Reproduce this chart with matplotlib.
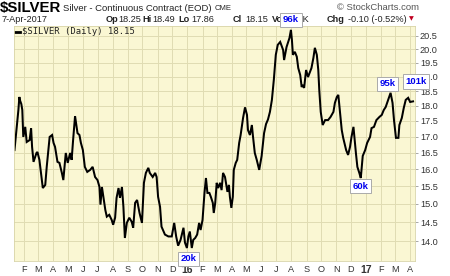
import matplotlib
matplotlib.use("Agg")
import matplotlib.pyplot as plt
import pandas as pd
from matplotlib.lines import Line2D

# ---------------- data ----------------
dates = [
    "2015-01-12", "2015-01-15", "2015-01-20", "2015-01-22", "2015-01-23", "2015-01-26", "2015-01-28", "2015-01-30",
    "2015-02-03", "2015-02-06", "2015-02-12", "2015-02-15", "2015-02-17", "2015-02-20", "2015-02-26", "2015-02-28",
    "2015-03-04", "2015-03-09", "2015-03-11", "2015-03-16", "2015-03-19", "2015-03-25", "2015-03-30", "2015-04-02",
    "2015-04-05", "2015-04-10", "2015-04-14", "2015-04-19", "2015-04-22", "2015-04-27", "2015-05-01", "2015-05-06",
    "2015-05-09", "2015-05-12", "2015-05-16", "2015-05-21", "2015-05-25", "2015-05-28", "2015-06-01", "2015-06-05",
    "2015-06-10", "2015-06-16", "2015-06-21", "2015-06-26", "2015-07-01", "2015-07-05", "2015-07-07", "2015-07-10",
    "2015-07-13", "2015-07-17", "2015-07-20", "2015-07-25", "2015-07-30", "2015-08-02", "2015-08-06", "2015-08-09",
    "2015-08-13", "2015-08-16", "2015-08-20", "2015-08-23", "2015-08-26", "2015-08-30", "2015-09-04", "2015-09-09",
    "2015-09-12", "2015-09-16", "2015-09-20", "2015-09-25", "2015-09-30", "2015-10-04", "2015-10-08", "2015-10-13",
    "2015-10-16", "2015-10-22", "2015-10-27", "2015-10-30", "2015-11-02", "2015-11-06", "2015-11-09", "2015-11-16",
    "2015-11-23", "2015-11-30", "2015-12-05", "2015-12-09", "2015-12-13", "2015-12-18", "2015-12-24", "2015-12-27",
    "2015-12-31", "2016-01-03", "2016-01-06", "2016-01-10", "2016-01-13", "2016-01-17", "2016-01-21", "2016-01-25",
    "2016-01-28", "2016-02-01", "2016-02-05", "2016-02-08", "2016-02-11", "2016-02-15", "2016-02-18", "2016-02-22",
    "2016-02-24", "2016-02-27", "2016-03-01", "2016-03-04", "2016-03-08", "2016-03-11", "2016-03-14", "2016-03-18",
    "2016-03-23", "2016-03-26", "2016-03-28", "2016-03-31", "2016-04-03", "2016-04-05", "2016-04-09", "2016-04-12",
    "2016-04-16", "2016-04-19", "2016-04-24", "2016-04-28", "2016-05-02", "2016-05-04", "2016-05-08", "2016-05-12",
    "2016-05-14", "2016-05-18", "2016-05-22", "2016-05-27", "2016-06-01", "2016-06-06", "2016-06-10", "2016-06-14",
    "2016-06-18", "2016-06-22", "2016-06-26", "2016-06-30", "2016-07-04", "2016-07-09", "2016-07-15", "2016-07-17",
    "2016-07-22", "2016-07-28", "2016-07-31", "2016-08-02", "2016-08-04", "2016-08-08", "2016-08-12", "2016-08-15",
    "2016-08-19", "2016-08-22", "2016-08-24", "2016-08-27", "2016-08-31", "2016-09-04", "2016-09-11", "2016-09-15",
    "2016-09-18", "2016-09-22", "2016-09-25", "2016-09-27", "2016-09-30", "2016-10-04", "2016-10-09", "2016-10-15",
    "2016-10-20", "2016-10-26", "2016-10-29", "2016-11-02", "2016-11-05", "2016-11-08", "2016-11-12", "2016-11-15",
    "2016-11-21", "2016-11-25", "2016-11-29", "2016-12-02", "2016-12-06", "2016-12-11", "2016-12-14", "2016-12-18",
    "2016-12-21", "2016-12-25", "2016-12-30", "2017-01-03", "2017-01-09", "2017-01-12", "2017-01-17", "2017-01-22",
    "2017-01-28", "2017-02-02", "2017-02-06", "2017-02-10", "2017-02-15", "2017-02-20", "2017-02-24", "2017-02-27",
    "2017-03-03", "2017-03-08", "2017-03-10", "2017-03-15", "2017-03-19", "2017-03-23", "2017-03-28", "2017-04-01",
    "2017-04-07",
]
closes = [
    16.58, 17.05, 17.86, 18.30, 18.20, 18.06, 17.86, 16.99,
    17.31, 16.83, 16.89, 17.27, 16.68, 16.22, 16.49, 16.52,
    16.28, 15.68, 15.45, 15.54, 16.07, 16.99, 17.05, 16.80,
    16.68, 16.22, 16.19, 15.89, 15.68, 16.49, 16.19, 16.49,
    16.28, 16.89, 17.66, 17.11, 17.05, 16.80, 16.58, 16.07,
    15.92, 15.98, 16.07, 15.77, 15.68, 15.48, 14.98, 15.48,
    15.20, 14.83, 14.65, 14.70, 14.56, 14.43, 14.62, 15.17,
    15.45, 15.17, 15.48, 14.92, 14.08, 14.48, 14.62, 14.51,
    14.35, 15.03, 15.11, 14.75, 14.48, 15.60, 15.89, 16.04,
    15.89, 15.77, 15.89, 15.77, 15.20, 14.92, 14.38, 14.17,
    14.12, 14.12, 14.48, 14.12, 13.88, 14.03, 14.35, 13.96,
    13.82, 14.12, 14.25, 13.82, 14.03, 14.08, 14.17, 14.48,
    14.29, 14.56, 15.31, 15.74, 15.31, 15.31, 15.20, 15.03,
    14.75, 15.03, 15.60, 15.45, 15.60, 15.39, 15.89, 15.77,
    15.34, 15.54, 15.20, 14.89, 15.20, 15.98, 16.19, 16.28,
    16.80, 17.05, 17.60, 17.95, 17.70, 17.21, 17.05, 17.37,
    17.05, 16.49, 16.28, 15.98, 16.40, 17.11, 17.40, 17.55,
    17.80, 18.20, 18.90, 19.79, 20.16, 20.27, 19.97, 19.60,
    20.08, 20.42, 20.73, 20.35, 19.79, 19.90, 19.72, 19.31,
    19.06, 18.64, 18.71, 18.61, 19.24, 18.99, 19.31, 19.68,
    20.05, 19.79, 19.24, 18.54, 17.80, 17.37, 17.53, 17.53,
    17.63, 17.80, 18.10, 18.30, 18.37, 17.86, 17.21, 16.96,
    16.58, 16.43, 16.68, 16.99, 17.31, 16.49, 16.07, 15.89,
    15.74, 16.40, 16.58, 16.80, 16.99, 17.27, 17.31, 17.53,
    17.63, 17.70, 17.86, 17.96, 18.20, 18.44, 18.10, 17.53,
    16.96, 16.96, 17.37, 17.60, 17.93, 18.20, 18.27, 18.13,
    18.15,
]
ytick_values = [14.0, 14.5, 15.0, 15.5, 16.0, 16.5, 17.0, 17.5, 18.0, 18.5, 19.0, 19.5, 20.0, 20.5]
month_starts = pd.date_range("2015-02-01", "2017-04-01", freq="MS")
volume_notes = [("96k", "2016-07-31", 20.73, 0, 10),
                ("20k", "2016-01-10", 13.82, -3, -11),
                ("60k", "2016-12-21", 15.74, 0, -8),
                ("95k", "2017-02-20", 18.44, -3, 9),
                ("101k", "2017-04-07", 18.15, 3, 20)]

# ---------------- style ----------------
W, H = 450, 276
BG = "#faf7d3"
GRID = "#e0dcb2"
TXT = "#333333"
FONT = "Liberation Sans"

fig = plt.figure(figsize=(W / 100, H / 100), dpi=100)
ax = fig.add_axes([14 / W, 1 - 261 / H, (415 - 14) / W, (261 - 26) / H])
ax.set_zorder(5)
ax.set_facecolor(BG)

x = pd.to_datetime(dates)
ax.plot(x, closes, color="black", lw=1.45, solid_joinstyle="miter")

ax.set_yscale("log")
ax.set_ylim(13.49, 20.88)
ax.yaxis.set_major_locator(matplotlib.ticker.FixedLocator(ytick_values))
ax.yaxis.set_minor_locator(matplotlib.ticker.NullLocator())
ax.yaxis.set_major_formatter(matplotlib.ticker.FuncFormatter(lambda v, p: f"{v:.1f}"))
ax.yaxis.tick_right()
ax.tick_params(axis="y", length=2, width=0.6, color="#999999", pad=1.5,
               labelsize=6.6, labelcolor=TXT)

ax.set_xlim(pd.Timestamp("2015-01-11"), pd.Timestamp("2017-04-11"))
ax.set_xticks(month_starts)
labels = [("%02d" % (d.year % 100)) if d.month == 1 else "JFMAMJJASOND"[d.month - 1] for d in month_starts]
ax.set_xticklabels(labels)
ax.tick_params(axis="x", length=0, pad=3, labelsize=6.6, labelcolor=TXT)
for lab, d in zip(ax.get_xticklabels(), month_starts):
    lab.set_fontfamily(FONT)
    if d.month == 1:
        lab.set_fontweight("bold")
        lab.set_fontsize(7.5)
for lab in ax.get_yticklabels():
    lab.set_fontfamily(FONT)

ax.grid(True, which="major", color=GRID, lw=0.7)
ax.set_axisbelow(True)
for s in ax.spines.values():
    s.set_color("#d8d4a8")
    s.set_linewidth(0.6)

# legend row (drawn inside the axes)
ax.add_line(Line2D([15 / W, 20 / W], [1 - 31.5 / H, 1 - 31.5 / H], color="black", lw=2.0,
                   transform=fig.transFigure, clip_on=False))
ax.text(22 / W, 1 - 31.5 / H, "$SILVER (Daily) 18.15", family="DejaVu Sans Mono",
        fontsize=6.4, color="#222222", va="center", ha="left", transform=fig.transFigure)

# header
def ftext(px, py, s, **kw):
    kw.setdefault("family", FONT)
    kw.setdefault("color", "#222222")
    kw.setdefault("va", "center")
    return fig.text(px / W, 1 - py / H, s, **kw)

ftext(0, 8, "$SILVER", fontsize=10.8, fontweight="bold", color="black")
ftext(63, 8.5, "Silver - Continuous Contract (EOD)", fontsize=6.8)
ftext(215, 9, "CME", fontsize=5.5)
ftext(337, 7, "\u00a9 StockCharts.com", fontsize=6.8, color="#555555")
ftext(2, 19, "7-Apr-2017", fontsize=6.6)
row2 = [(106, "Op", True), (118, "18.25", False), (142, "Hi", True), (152, "18.49", False),
        (178, "Lo", True), (191, "17.86", False), (233, "Cl", True), (245, "18.15", False),
        (272, "Vol", True), (291, "8.7K", False), (327, "Chg", True), (348, "-0.10 (-0.52%)", False)]
for px, s, b in row2:
    ftext(px, 19, s, fontsize=6.6, fontweight="bold" if b else "normal")
fig.text(411 / W, 1 - 19 / H, "\u25bc", color="#c00020", fontsize=4.5, va="center", ha="center")

# volume annotations
for txt, d, v, dx, dy in volume_notes:
    ax.annotate(txt, xy=(pd.Timestamp(d), v), xytext=(dx, dy), textcoords="offset pixels",
                ha="center", va="center", fontsize=6.8, fontweight="bold", color="#0000ee",
                family=FONT, annotation_clip=False, zorder=10,
                bbox=dict(boxstyle="square,pad=0.28", fc="white", ec="#aaaaaa", lw=0.7))

fig.savefig("out.png", dpi=100, facecolor="white")
